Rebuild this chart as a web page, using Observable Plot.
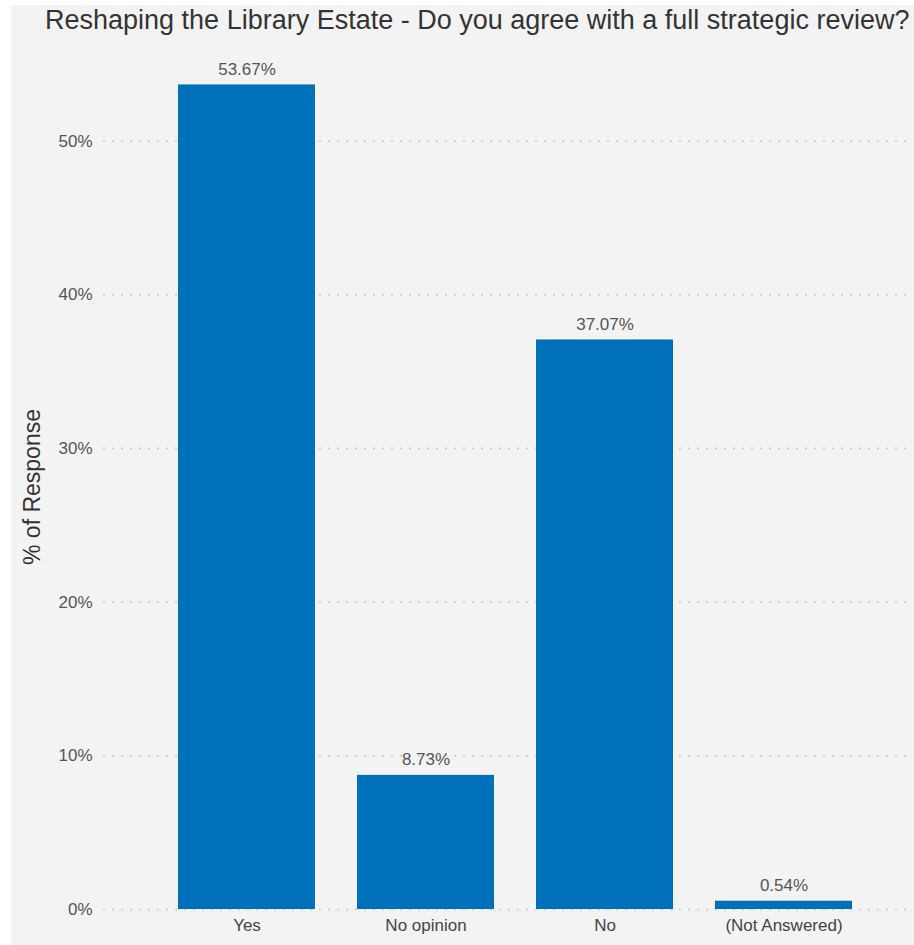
<!DOCTYPE html>
<html>
<head>
<meta charset="utf-8">
<script src="https://cdn.jsdelivr.net/npm/d3@7"></script>
<script src="https://cdn.jsdelivr.net/npm/@observablehq/plot@0.6"></script>
<style>
  html, body { margin: 0; padding: 0; background: #ffffff; }
  body { width: 914px; height: 945px; position: relative; overflow: hidden; font-family: "Liberation Sans", Arial, sans-serif; }
  #panel { position: absolute; left: 11px; top: 5px; width: 903px; height: 940px; background: #f3f3f3; }
  #title { position: absolute; left: 45px; top: 4px; width: 860px; text-align: center; font-size: 27px; line-height: 32px; color: #333; white-space: nowrap; }
  #chart { position: absolute; left: 0; top: 40px; }
</style>
</head>
<body>
<div id="panel"></div>
<div id="title">Reshaping the Library Estate - Do you agree with a full strategic review?</div>
<div id="chart"></div>
<script>
const categories = ["Yes", "No opinion", "No", "(Not Answered)"];
const values = [53.67, 8.73, 37.07, 0.54];
const yTicks = [0, 10, 20, 30, 40, 50];
const yLabel = "% of Response";

const data = categories.map((c, i) => ({category: c, value: values[i]}));

const chart = Plot.plot({
  width: 914,
  height: 900,
  marginLeft: 103,
  marginRight: 2,
  marginTop: 24,
  marginBottom: 31,
  style: {background: "transparent", fontFamily: "Liberation Sans, Arial, sans-serif"},
  x: {domain: categories, padding: 0.235, insetLeft: 32, insetRight: 18, label: null},
  y: {domain: [0, 55], label: null},
  marks: [
    Plot.gridY(yTicks, {stroke: "#c8c8c8", strokeOpacity: 1, strokeWidth: 1.5, strokeDasharray: "2,7"}),
    Plot.barY(data, {x: "category", y: "value", fill: "#0070ba"}),
    Plot.text(data, {x: "category", y: "value", text: d => d.value.toFixed(2) + "%", lineAnchor: "bottom", dy: -10, fontSize: 17, fill: "#555"}),
    Plot.axisY(yTicks, {tickSize: 0, tickPadding: 11, tickFormat: d => d + "%", fontSize: 17, fill: "#555", label: null}),
    Plot.axisX({tickSize: 0, tickPadding: 9, fontSize: 17, fill: "#444", label: null}),
    Plot.text([yLabel], {frameAnchor: "left", textAnchor: "middle", text: d => d, rotate: -90, dx: -71, fontSize: 23, fill: "#333"})
  ]
});
document.getElementById("chart").appendChild(chart);
</script>
</body>
</html>
